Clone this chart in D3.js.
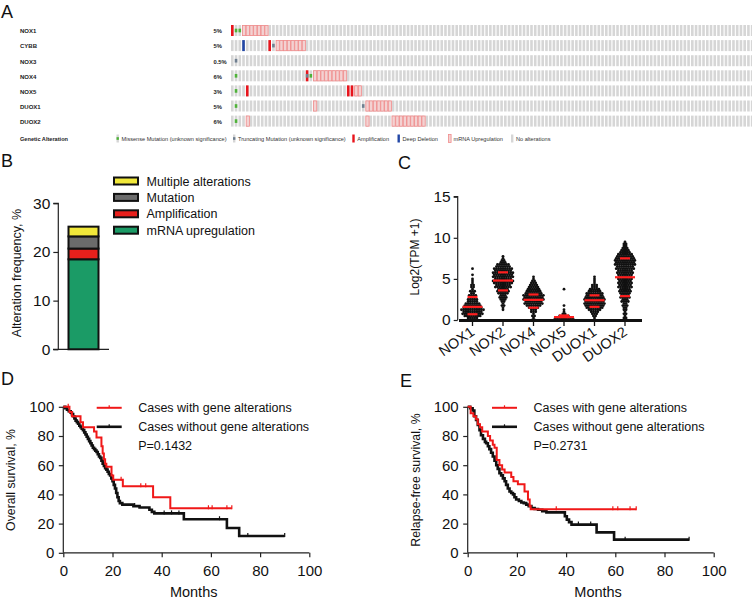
<!DOCTYPE html>
<html>
<head>
<meta charset="utf-8">
<script src="https://cdn.jsdelivr.net/npm/d3@7/dist/d3.min.js"></script>
<style>
body{margin:0;background:#fff;}
svg{font-family:"Liberation Sans",Arial,sans-serif;}
</style>
</head>
<body>
<svg id="fig" width="752" height="600"></svg>
<script>
// ---------- data ----------
// A: oncoprint
const oncoGenes = ["NOX1", "CYBB", "NOX3", "NOX4", "NOX5", "DUOX1", "DUOX2"];
const oncoPct = ["5%", "5%", "0.5%", "6%", "3%", "5%", "6%"];
const oncoCaseCount = 140; // columns visible in the crop
const ampCells = [[0, 0], [1, 10], [3, 20], [4, 4], [4, 31], [4, 32]];
const delCells = [[1, 3]];
const missenseCells = [[0, 1], [0, 2], [3, 1], [3, 21], [4, 1], [5, 1], [6, 1]];
const truncCells = [[1, 11], [2, 1], [3, 20], [5, 35]];
// [gene, first column, last column]
const mrnaRuns = [[0, 3, 9], [1, 12, 19], [3, 22, 30], [4, 33, 34], [5, 22, 22], [5, 36, 42], [6, 4, 4], [6, 36, 36], [6, 43, 51]];
const oncoLegend = ["Missense Mutation (unknown significance)", "Truncating Mutation (unknown significance)", "Amplification", "Deep Deletion", "mRNA Upregulation", "No alterations"];

// B: stacked frequency bar
const freqTypes = ["mRNA upregulation", "Amplification", "Mutation", "Multiple alterations"];
const freqValues = [18.5, 2.2, 2.5, 2.0];
const freqColors = ["#1b9b66", "#e8201c", "#6b6b6b", "#f1e83a"];

// C: expression dot plot, dots stacked per 0.25 level
const exprGenes = ["NOX1", "NOX2", "NOX4", "NOX5", "DUOX1", "DUOX2"];
const exprLevels = [0, 0.25, 0.5, 0.75, 1, 1.25, 1.5, 1.75, 2, 2.25, 2.5, 2.75, 3, 3.25, 3.5, 3.75, 4, 4.25, 4.5, 4.75, 5, 5.25, 5.5, 5.75, 6, 6.25, 6.5, 6.75, 7, 7.25, 7.5, 7.75, 8, 8.25, 8.5, 8.75, 9, 9.25, 9.5];
const nox1Counts = [2, 5, 8, 10, 9, 11, 9, 8, 7, 5, 5, 3, 4, 2, 3, 1, 2, 2, 1, 1, 1, 0, 1, 0, 0, 1, 0, 0, 0, 0, 0, 0, 0, 0, 0, 0, 0, 0, 0];
const nox2Counts = [0, 0, 0, 0, 0, 1, 1, 2, 1, 2, 3, 4, 3, 5, 6, 5, 8, 7, 9, 10, 8, 10, 9, 10, 8, 9, 7, 6, 3, 2, 1, 1, 0, 0, 0, 0, 0, 0, 0];
const nox4Counts = [2, 1, 2, 1, 3, 3, 5, 7, 9, 8, 10, 9, 10, 8, 7, 6, 5, 4, 3, 2, 1, 1, 0, 0, 0, 0, 0, 0, 0, 0, 0, 0, 0, 0, 0, 0, 0, 0, 0];
const nox5Counts = [10, 9, 5, 2, 1, 1, 0, 1, 0, 0, 0, 0, 0, 0, 0, 1, 0, 0, 0, 0, 0, 0, 0, 0, 0, 0, 0, 0, 0, 0, 0, 0, 0, 0, 0, 0, 0, 0, 0];
const duox1Counts = [1, 1, 2, 3, 4, 6, 8, 9, 10, 9, 10, 9, 8, 8, 6, 5, 3, 3, 1, 1, 1, 1, 0, 0, 0, 0, 0, 0, 0, 0, 0, 0, 0, 0, 0, 0, 0, 0, 0];
const duox2Counts = [2, 2, 1, 2, 1, 2, 2, 3, 2, 4, 3, 5, 4, 5, 6, 5, 7, 6, 7, 6, 7, 6, 7, 8, 7, 9, 8, 10, 9, 10, 9, 8, 7, 5, 4, 3, 2, 2, 1];
const exprMedian = [1.6, 4.8, 2.45, 0.35, 2.4, 5.2];
const exprQ1 = [0.7, 3.6, 1.5, 0, 1.6, 2.9];
const exprQ3 = [2.8, 5.8, 3.1, 0.55, 3.0, 7.5];

// D: overall survival
const osAltTime = [0, 2.5, 3.5, 7, 8, 12.5, 13.5, 15.5, 16, 16.5, 17, 17.5, 19.6, 20.3, 24.2, 36.5, 43.5, 68.5];
const osAltSurv = [100, 96.5, 93.5, 89.5, 86, 83, 79, 73, 68, 64, 61, 59, 53, 50, 45.5, 38, 30.5, 30.5];
const osAltCensor = [2, 23.5, 31.5, 33.5, 59, 60.5, 66.5, 68.5];
const osNoTime = [0, 0.8, 1.5, 2.2, 3, 3.5, 4, 4.5, 5, 5.5, 6, 6.5, 7, 7.5, 8, 8.5, 9, 9.5, 10, 10.5, 11, 11.5, 12, 12.5, 13, 13.5, 14, 14.5, 15, 15.5, 16, 16.5, 17, 17.5, 18, 18.5, 19, 19.5, 20, 20.5, 21, 21.5, 22, 22.5, 23, 24, 28.5, 31, 35, 36, 37, 49, 66.5, 71.5, 90];
const osNoSurv = [100, 99, 98, 97, 96, 95, 93.5, 92, 90.5, 89.5, 88.5, 87, 86, 85, 84, 82.5, 81, 79.5, 78, 76.5, 75, 73.5, 72, 71, 70, 69, 67.5, 66, 65, 63, 61, 59.5, 58, 57, 55.5, 54, 53, 51, 49, 46.5, 44, 41, 38, 35.5, 34, 33, 32, 31, 29.5, 28, 27, 23, 17, 11.5, 11.5];
const osNoCensor = [29, 41, 44, 47, 63.5, 75, 90];

// E: relapse-free survival
const rfsAltTime = [0, 1.2, 2.3, 3.4, 4.1, 5, 5.9, 8.2, 9.1, 10.2, 10.9, 11.8, 12.9, 14, 15, 17.7, 18.6, 20.4, 23.1, 24.5, 25.2, 25.6, 68.5];
const rfsAltSurv = [100, 95.5, 93.5, 91.5, 88, 86, 83, 80, 77, 74, 72, 63.5, 60, 57, 55, 52, 49, 47, 42, 36.5, 32, 29.8, 29.8];
const rfsAltCensor = [36, 59, 61, 66, 68.5];
const rfsNoTime = [0, 1, 2, 2.7, 3.4, 4.1, 4.8, 5.4, 6.2, 7, 7.5, 8.2, 8.8, 9.5, 10.2, 10.9, 11.6, 12.2, 12.9, 13.6, 14.3, 15, 15.6, 16.3, 17, 17.7, 18.4, 19, 19.7, 20.8, 21.8, 22.8, 23.8, 24.8, 25.9, 27.2, 28.6, 30.3, 32, 39.5, 40.3, 41.2, 42.2, 52.4, 59.5, 90];
const rfsNoSurv = [100, 99, 97.5, 93.5, 91, 87.5, 84, 80.5, 78, 76, 75, 73, 71, 68.5, 66, 63, 60, 57.5, 54.5, 53, 51, 49, 46.5, 44, 42, 41, 40, 38, 36.5, 35.5, 34.5, 34, 33, 32, 30.7, 30, 29.5, 28.5, 27.7, 25, 22.7, 21, 19.3, 14, 9, 9];
const rfsNoCensor = [45, 50, 64, 90];

const kmLegend = ["Cases with gene alterations", "Cases without gene alterations"];
const kmTicks = [0, 20, 40, 60, 80, 100];

const svg = d3.select("#fig");

function panelLetter(txt, x, y){
    svg.append("text").attr("x", x).attr("y", y)
        .attr("font-size", 18).attr("fill", "#111").text(txt);
}

function styleAxis(g, fontSize){
    g.selectAll("path").attr("stroke", "#222").attr("stroke-width", 1.2);
    g.selectAll("line").attr("stroke", "#222").attr("stroke-width", 1.2);
    g.selectAll("text").attr("font-size", fontSize).attr("fill", "#111")
        .attr("font-family", "Liberation Sans, Arial, sans-serif");
}

// ---------- A ----------
function drawOncoprint(){
    const x0 = 231, pitch = 3.74, barW = 2.6, y0 = 25, rowStep = 15.1, barH = 11;
    const colX = d3.scaleLinear().domain([0, 1]).range([x0, x0 + pitch]);
    const rowY = d3.scaleLinear().domain([0, 1]).range([y0, y0 + rowStep]);
    const g = svg.append("g");

    oncoGenes.forEach((gene, i) => {
        g.append("text").attr("x", 20).attr("y", rowY(i) + 8.3)
            .attr("font-size", 6).attr("font-weight", "bold").attr("fill", "#222").text(gene);
        g.append("text").attr("x", 213.5).attr("y", rowY(i) + 8.3)
            .attr("font-size", 5.8).attr("font-weight", "bold").attr("fill", "#222").text(oncoPct[i]);
        g.selectAll(null).data(d3.range(oncoCaseCount)).join("rect")
            .attr("x", c => colX(c)).attr("y", rowY(i))
            .attr("width", barW).attr("height", barH).attr("fill", "#d6d6d6");
    });

    const mrnaCols = [];
    mrnaRuns.forEach(([gi, a, b]) => { for(let c = a; c <= b; c++) mrnaCols.push([gi, c]); });
    g.selectAll(null).data(mrnaCols).join("rect")
        .attr("x", d => colX(d[1]) + 0.2).attr("y", d => rowY(d[0]) + 0.4)
        .attr("width", pitch - 0.5).attr("height", barH - 0.8)
        .attr("fill", "#f3d2d2").attr("stroke", "#f08c8c").attr("stroke-width", 0.8);
    g.selectAll(null).data(ampCells).join("rect")
        .attr("x", d => colX(d[1])).attr("y", d => rowY(d[0]))
        .attr("width", barW).attr("height", barH).attr("fill", "#e8141c");
    g.selectAll(null).data(delCells).join("rect")
        .attr("x", d => colX(d[1])).attr("y", d => rowY(d[0]))
        .attr("width", barW).attr("height", barH).attr("fill", "#2247a6");
    g.selectAll(null).data(missenseCells).join("rect")
        .attr("x", d => colX(d[1])).attr("y", d => rowY(d[0]) + barH / 3)
        .attr("width", barW).attr("height", barH / 3).attr("fill", "#4fb23a");
    g.selectAll(null).data(truncCells).join("rect")
        .attr("x", d => colX(d[1])).attr("y", d => rowY(d[0]) + barH / 3)
        .attr("width", barW).attr("height", barH / 3).attr("fill", "#6f7f90");

    // legend row
    const ly = 134.5, lh = 8;
    g.append("text").attr("x", 20).attr("y", 140.5).attr("font-size", 5.6)
        .attr("font-weight", "bold").attr("fill", "#222").text("Genetic Alteration");
    const legX = [116.5, 233, 352.3, 397.5, 448.5, 511];
    legX.forEach((lx, i) => {
        if(i === 0 || i === 1){
            g.append("rect").attr("x", lx).attr("y", ly).attr("width", 2.4).attr("height", lh).attr("fill", "#d6d6d6");
            g.append("rect").attr("x", lx).attr("y", ly + lh / 3).attr("width", 2.4).attr("height", lh / 3)
                .attr("fill", i === 0 ? "#4fb23a" : "#6f7f90");
        } else if(i === 4){
            g.append("rect").attr("x", lx).attr("y", ly).attr("width", 2.6).attr("height", lh)
                .attr("fill", "#f3d2d2").attr("stroke", "#f08c8c").attr("stroke-width", 0.8);
        } else {
            g.append("rect").attr("x", lx).attr("y", ly).attr("width", 2.4).attr("height", lh)
                .attr("fill", ["", "", "#e8141c", "#2247a6", "", "#d6d6d6"][i]);
        }
        g.append("text").attr("x", lx + 5).attr("y", 140.5).attr("font-size", 5.6)
            .attr("fill", "#333").text(oncoLegend[i]);
    });
}

// ---------- B ----------
function drawFrequency(){
    const y = d3.scaleLinear().domain([0, 30]).range([349.3, 203.3]);
    const g = svg.append("g");
    const ax = g.append("g").attr("transform", "translate(58.3,0)")
        .call(d3.axisLeft(y).tickValues([0, 10, 20, 30]).tickSize(5).tickPadding(3));
    ax.select(".domain").attr("d", `M-5,${y(30)}H0V${y(0)}`);
    styleAxis(ax, 15.5);
    g.append("line").attr("x1", 53).attr("x2", 109).attr("y1", y(0)).attr("y2", y(0))
        .attr("stroke", "#222").attr("stroke-width", 1.2);

    let acc = 0;
    const segs = freqValues.map((v, i) => { const s = {lo: acc, hi: acc + v, c: freqColors[i]}; acc += v; return s; });
    g.selectAll(null).data(segs).join("rect")
        .attr("x", 68.5).attr("width", 30)
        .attr("y", d => y(d.hi)).attr("height", d => y(d.lo) - y(d.hi))
        .attr("fill", d => d.c).attr("stroke", "#111").attr("stroke-width", 2);

    g.append("text").attr("transform", "translate(21,273) rotate(-90)")
        .attr("text-anchor", "middle").attr("font-size", 12.5).attr("fill", "#111")
        .text("Alteration frequency, %");

    // legend (top = last segment)
    const order = [3, 2, 1, 0];
    order.forEach((k, j) => {
        const cy = 181 + j * 16.4;
        g.append("rect").attr("x", 114).attr("y", cy - 3.5).attr("width", 24).attr("height", 7)
            .attr("fill", freqColors[k]).attr("stroke", "#111").attr("stroke-width", 2);
        g.append("text").attr("x", 146.5).attr("y", cy + 4.5).attr("font-size", 12.5)
            .attr("fill", "#111").text(freqTypes[k]);
    });
}

// ---------- C ----------
function drawExpression(){
    const y = d3.scaleLinear().domain([0, 15]).range([320, 196.7]);
    const x = d3.scalePoint().domain(exprGenes).range([472.5, 625]);
    const g = svg.append("g");
    const allCounts = [nox1Counts, nox2Counts, nox4Counts, nox5Counts, duox1Counts, duox2Counts];

    const dots = [];
    exprGenes.forEach((gene, i) => {
        allCounts[i].forEach((n, k) => {
            for(let j = 0; j < n; j++){
                dots.push({gene, off: (j - (n - 1) / 2) * 2.2, v: exprLevels[k]});
            }
        });
    });
    g.selectAll(null).data(dots).join("circle")
        .attr("cx", d => x(d.gene) + d.off).attr("cy", d => y(d.v))
        .attr("r", 1.4).attr("fill", "#111");

    // median + quartile marks
    exprGenes.forEach((gene, i) => {
        [[exprMedian[i], 10], [exprQ1[i], 5], [exprQ3[i], 5]].forEach(([v, hw]) => {
            g.append("line").attr("x1", x(gene) - hw).attr("x2", x(gene) + hw)
                .attr("y1", y(v)).attr("y2", y(v)).attr("stroke", "#ff1f1f").attr("stroke-width", 2.2);
        });
    });

    const ax = g.append("g").attr("transform", "translate(457.7,0)")
        .call(d3.axisLeft(y).tickValues([0, 5, 10, 15]).tickSize(4).tickPadding(3));
    ax.select(".domain").attr("d", `M-4,${y(15)}H0V${y(0)}`);
    styleAxis(ax, 15.5);

    g.append("line").attr("x1", 459).attr("x2", 642).attr("y1", 320.5).attr("y2", 320.5)
        .attr("stroke", "#111").attr("stroke-width", 3.2);
    exprGenes.forEach(gene => {
        g.append("line").attr("x1", x(gene)).attr("x2", x(gene)).attr("y1", 320).attr("y2", 326)
            .attr("stroke", "#111").attr("stroke-width", 1.3);
        g.append("text").attr("transform", `translate(${x(gene) + 3},${334}) rotate(-35)`)
            .attr("text-anchor", "end").attr("font-size", 14.5).attr("fill", "#111").text(gene);
    });

    g.append("text").attr("transform", "translate(419,257) rotate(-90)")
        .attr("text-anchor", "middle").attr("font-size", 12).attr("fill", "#111")
        .text("Log2(TPM +1)");
}

// ---------- D / E ----------
function stepValue(times, surv, t){
    let v = surv[0];
    times.forEach((tt, i) => { if(tt <= t) v = surv[i]; });
    return v;
}

function drawKM(cfg){
    const x = d3.scaleLinear().domain([0, 100]).range([cfg.left, cfg.left + 246]);
    const y = d3.scaleLinear().domain([0, 100]).range([552.8, 406.8]);
    const g = svg.append("g");

    const ay = g.append("g").attr("transform", `translate(${cfg.left},0)`)
        .call(d3.axisLeft(y).tickValues(kmTicks).tickSize(4.5).tickPadding(4.5));
    styleAxis(ay, 15);
    ay.select(".domain").attr("d", `M0,${y(100)}V${y(0)}`);
    const ax = g.append("g").attr("transform", `translate(0,${y(0)})`)
        .call(d3.axisBottom(x).tickValues(kmTicks).tickSize(4.5).tickPadding(8.5));
    styleAxis(ax, 15);
    ax.select(".domain").attr("d", `M${x(0)},0H${x(100)}`);

    const line = d3.line().x(d => x(d[0])).y(d => y(d[1])).curve(d3.curveStepAfter);
    const series = [
        {t: cfg.noTime, s: cfg.noSurv, c: cfg.noCensor, col: "#111", w: 2.6},
        {t: cfg.altTime, s: cfg.altSurv, c: cfg.altCensor, col: "#f01818", w: 2}
    ];
    series.forEach(sr => {
        g.append("path").datum(sr.t.map((t, i) => [t, sr.s[i]]))
            .attr("d", line).attr("fill", "none").attr("stroke", sr.col).attr("stroke-width", sr.w);
        g.selectAll(null).data(sr.c).join("line")
            .attr("x1", t => x(t)).attr("x2", t => x(t))
            .attr("y1", t => y(stepValue(sr.t, sr.s, t)) - 3).attr("y2", t => y(stepValue(sr.t, sr.s, t)) + 1)
            .attr("stroke", sr.col).attr("stroke-width", 1.2);
    });

    // legend
    [["#f01818", 2, 407.8], ["#111", 2.6, 426.8]].forEach(([col, w, ly], i) => {
        g.append("line").attr("x1", cfg.legX).attr("x2", cfg.legX + 25).attr("y1", ly).attr("y2", ly)
            .attr("stroke", col).attr("stroke-width", w);
        g.append("line").attr("x1", cfg.legX + 12.5).attr("x2", cfg.legX + 12.5).attr("y1", ly - 2.5).attr("y2", ly)
            .attr("stroke", col).attr("stroke-width", 1.2);
        g.append("text").attr("x", cfg.legX + 41.5).attr("y", ly + 4.3).attr("font-size", 12.5)
            .attr("fill", "#111").text(kmLegend[i]);
    });
    g.append("text").attr("x", cfg.legX + 41.5).attr("y", 450).attr("font-size", 12.5)
        .attr("fill", "#111").text(cfg.p);

    g.append("text").attr("transform", `translate(${cfg.titleX},480) rotate(-90)`)
        .attr("text-anchor", "middle").attr("font-size", 12.3).attr("fill", "#111").text(cfg.yTitle);
    g.append("text").attr("x", x(53)).attr("y", 597).attr("text-anchor", "middle")
        .attr("font-size", 14.5).attr("fill", "#111").text("Months");
}

drawOncoprint();
drawFrequency();
drawExpression();
drawKM({left: 63.3, legX: 96.7, p: "P=0.1432", yTitle: "Overall survival, %", titleX: 15,
    altTime: osAltTime, altSurv: osAltSurv, altCensor: osAltCensor,
    noTime: osNoTime, noSurv: osNoSurv, noCensor: osNoCensor});
drawKM({left: 467.7, legX: 492, p: "P=0.2731", yTitle: "Relapse-free survival, %", titleX: 420,
    altTime: rfsAltTime, altSurv: rfsAltSurv, altCensor: rfsAltCensor,
    noTime: rfsNoTime, noSurv: rfsNoSurv, noCensor: rfsNoCensor});

panelLetter("A", 1, 17.5);
panelLetter("B", 1, 167);
panelLetter("C", 398, 168.5);
panelLetter("D", 1, 385);
panelLetter("E", 400, 387);
</script>
</body>
</html>
